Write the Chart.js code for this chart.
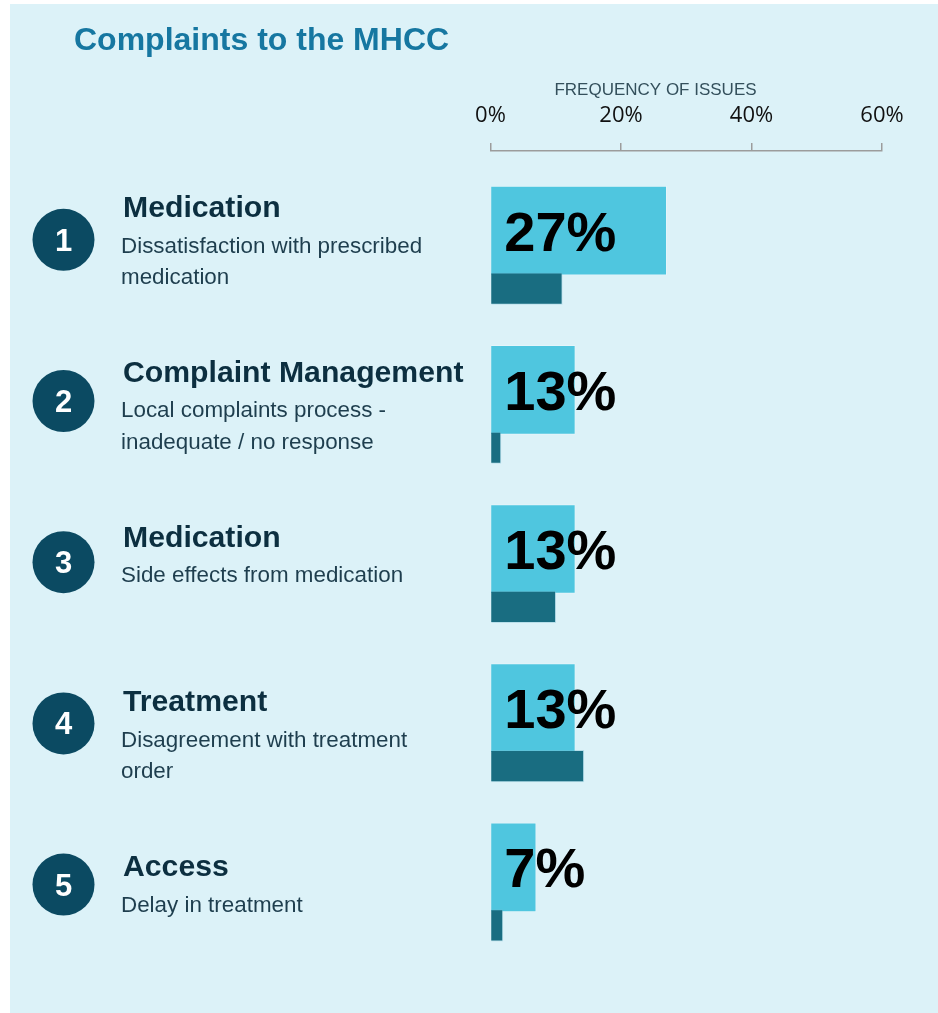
<!DOCTYPE html>
<html>
<head>
<meta charset="utf-8">
<title>Complaints to the MHCC</title>
<script src="https://cdn.jsdelivr.net/npm/chart.js@4.4.1/dist/chart.umd.min.js"></script>
<style>
  html, body { margin: 0; padding: 0; background: #fff; }
  #panel { position: absolute; left: 10px; top: 4px; width: 928px; height: 1009px; background: #dcf2f8; }
  #chart { position: absolute; left: 0; top: 0; }
</style>
</head>
<body>
<div id="panel"></div>
<canvas id="chart" width="938" height="1013"></canvas>
<script>
// ======================
// Data
// ======================
const ranks = [1, 2, 3, 4, 5];
const issueGroups = ["Medication", "Complaint Management", "Medication", "Treatment", "Access"];
const issueDetails = [
    ["Dissatisfaction with prescribed", "medication"],
    ["Local complaints process -", "inadequate / no response"],
    ["Side effects from medication"],
    ["Disagreement with treatment", "order"],
    ["Delay in treatment"]
];
// frequency of issues, % (headline bars)
const frequency = [27, 13, 13, 13, 7];
// darker companion bar under each headline bar, %
const secondary = [11, 1.6, 10, 14.3, 1.9];
const axisTicks = [0, 20, 40, 60];

// ======================
// Layout / style
// ======================
const LIGHT = "#4fc6df";
const DARK = "#196d81";
const NAVY = "#0b4a62";
const DARK_SHIFT = 0.364;   // dark bar sits just below its light bar (in row units)
const FONT = "'Liberation Sans', Arial, sans-serif";

// headline %, numbered circles, group titles and descriptions
const decorations = {
    id: "decorations",
    afterDatasetsDraw(chart) {
        const ctx = chart.ctx;
        const meta = chart.getDatasetMeta(0);
        ctx.save();
        ctx.fillStyle = "#000";
        ctx.font = "bold 56px " + FONT;
        ctx.textAlign = "left";
        ctx.textBaseline = "alphabetic";
        meta.data.forEach((bar, i) => {
            ctx.fillText(frequency[i] + "%", bar.base + 13, bar.y + 20);
        });
        ctx.restore();
    },
    afterDraw(chart) {
        const ctx = chart.ctx;
        const x = chart.scales.x;
        ctx.save();

        // title
        ctx.fillStyle = "#1677a1";
        ctx.font = "bold 32px " + FONT;
        ctx.textAlign = "left";
        ctx.textBaseline = "alphabetic";
        ctx.fillText("Complaints to the MHCC", 74, 49.5);

        // axis caption
        ctx.fillStyle = "#34505c";
        ctx.font = "17px " + FONT;
        ctx.textAlign = "center";
        ctx.fillText("FREQUENCY OF ISSUES", x.left + 165, 95);

        ranks.forEach((rank, i) => {
            const cy = 239.8 + i * 161.2;
            ctx.beginPath();
            ctx.arc(63.5, cy, 31, 0, Math.PI * 2);
            ctx.fillStyle = NAVY;
            ctx.fill();

            ctx.fillStyle = "#fff";
            ctx.font = "bold 31px " + FONT;
            ctx.textAlign = "center";
            ctx.fillText(String(rank), 63.5, cy + 11);

            const top = 196 + i * 164.75;
            let base = top + 21;
            ctx.textAlign = "left";
            ctx.fillStyle = "#0c2f40";
            ctx.font = "bold 30.2px " + FONT;
            ctx.fillText(issueGroups[i], 123, base);

            ctx.fillStyle = "#1e3e4e";
            ctx.font = "22.4px " + FONT;
            base += 35.5;
            issueDetails[i].forEach((line, k) => {
                ctx.fillText(line, 121, base + k * 31.5);
            });
        });
        ctx.restore();
    }
};

new Chart(document.getElementById("chart"), {
    type: "bar",
    data: {
        datasets: [{
            label: "Frequency",
            data: ranks.map((r, i) => ({ x: frequency[i], y: i })),
            backgroundColor: LIGHT,
            borderColor: "rgba(255,255,255,0.25)",
            borderWidth: 1,
            barThickness: 89,
            order: 1
        }, {
            label: "Secondary",
            data: ranks.map((r, i) => ({ x: secondary[i], y: i + DARK_SHIFT })),
            backgroundColor: DARK,
            borderColor: "rgba(120,190,210,0.35)",
            borderWidth: 1,
            barThickness: 31.5,
            order: 0
        }]
    },
    options: {
        indexAxis: "y",
        responsive: false,
        animation: false,
        grouped: false,
        layout: { padding: { top: 88.6, left: 490.5, right: 56, bottom: 13 } },
        plugins: {
            legend: { display: false },
            tooltip: { enabled: false }
        },
        scales: {
            x: {
                type: "linear",
                position: "top",
                min: 0,
                max: 60,
                afterBuildTicks: (scale) => { scale.ticks = axisTicks.map(v => ({ value: v })); },
                ticks: {
                    color: "#111",
                    padding: 14,
                    font: { family: "'Open Sans', sans-serif", size: 22 },
                    callback: (v) => v + "%"
                },
                grid: {
                    drawOnChartArea: false,
                    drawTicks: true,
                    tickLength: 8,
                    color: "#9c9c9c",
                    lineWidth: 1.5
                },
                border: { display: true, color: "#9c9c9c", width: 1.5 }
            },
            y: {
                type: "linear",
                display: false,
                offset: false,
                reverse: true,
                min: -0.5,
                max: 4.833
            }
        }
    },
    plugins: [decorations]
});
</script>
</body>
</html>
